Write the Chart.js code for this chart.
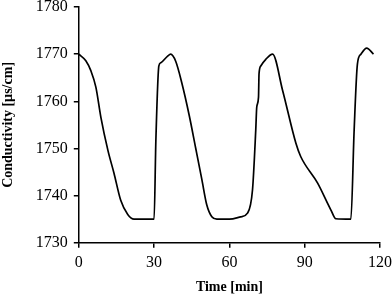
<!DOCTYPE html>
<html>
<head>
<meta charset="utf-8">
<script src="https://cdn.jsdelivr.net/npm/chart.js@4/dist/chart.umd.min.js"></script>
<style>
  html, body { margin: 0; padding: 0; background: #fff; }
</style>
</head>
<body>
<canvas id="chart" width="392" height="294"></canvas>
<script>
// time in minutes, conductivity in µs/cm
const timeMin = [0, 2.8, 4.8, 6.8, 8.8, 11.6, 14, 16.7, 19.5, 22, 26, 30,
  30.7, 31.9, 32.7, 35.4, 36.6, 38.6, 41, 44, 46.6, 49, 51, 53, 55, 60, 64.5,
  67.2, 69.2, 70.5, 70.9, 71.6, 71.8, 72.5, 74.5, 77.2, 81.2, 86.5, 88.4, 95.1, 100.4, 102.4, 108.4,
  109.7, 111, 112.4, 114.7, 117.4];
const conductivity = [1770, 1768.6, 1766.5, 1763, 1756.6, 1749.6, 1744.8, 1739, 1736, 1735, 1735, 1735,
  1751.6, 1767.5, 1768.2, 1769.6, 1770, 1768.5, 1764, 1757, 1750, 1743.5, 1738, 1735.5, 1735, 1735, 1735.5,
  1736.3, 1741.2, 1753.9, 1758.8, 1760.9, 1765.8, 1767.5, 1768.9, 1770, 1762.3, 1751.1, 1748.3, 1742.7, 1737, 1735.1, 1735,
  1753.9, 1767.9, 1770, 1771.3, 1770];
const xTicks = [0, 30, 60, 90, 120];
const yTicks = [1730, 1740, 1750, 1760, 1770, 1780];

const points = timeMin.map((t, i) => ({ x: t, y: conductivity[i] }));
const serif = 'Liberation Serif, Times New Roman, serif';

new Chart(document.getElementById('chart'), {
  type: 'line',
  data: {
    datasets: [{
      data: points,
      borderColor: '#000',
      borderWidth: 1.7,
      pointRadius: 0,
      fill: false,
      cubicInterpolationMode: 'monotone'
    }]
  },
  options: {
    responsive: false,
    animation: false,
    layout: { padding: { left: 0, right: 0, top: 7, bottom: 0 } },
    plugins: { legend: { display: false }, tooltip: { enabled: false } },
    scales: {
      x: {
        type: 'linear',
        min: 0, max: 120,
        afterBuildTicks: axis => { axis.ticks = xTicks.map(v => ({ value: v })); },
        afterFit: axis => { axis.paddingRight = 12; axis.paddingLeft = 0; },
        grid: { drawOnChartArea: false, drawTicks: true, tickLength: 5, color: '#000', lineWidth: 1.5 },
        border: { display: true, color: '#000', width: 1.5 },
        ticks: { color: '#000', font: { family: serif, size: 16 }, padding: 5, maxRotation: 0, callback: v => String(v) },
        title: { display: true, text: 'Time [min]', color: '#000', font: { family: serif, size: 14, weight: 'bold', lineHeight: 1 }, padding: { top: 3, bottom: 0 } }
      },
      y: {
        min: 1730, max: 1780,
        afterBuildTicks: axis => { axis.ticks = yTicks.map(v => ({ value: v })); },
        afterFit: axis => { axis.paddingTop = 0; axis.paddingBottom = 0; },
        grid: { drawOnChartArea: false, drawTicks: true, tickLength: 5, color: '#000', lineWidth: 1.5 },
        border: { display: true, color: '#000', width: 1.5 },
        ticks: { color: '#000', font: { family: serif, size: 16 }, padding: 6, callback: v => String(v) },
        title: { display: true, text: 'Conductivity [µs/cm]', color: '#000', font: { family: serif, size: 14, weight: 'bold' }, padding: { top: 0, bottom: 13 } }
      }
    }
  }
});
</script>
</body>
</html>
